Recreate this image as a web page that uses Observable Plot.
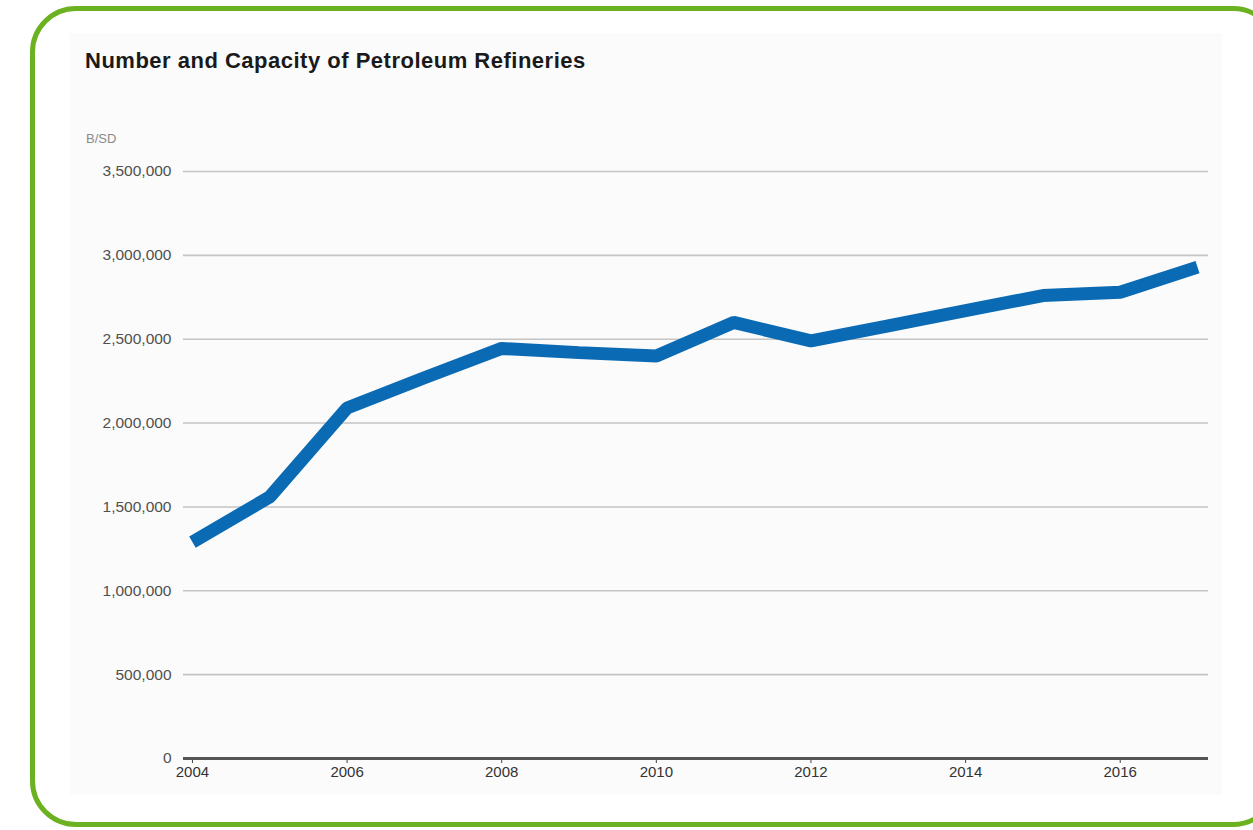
<!DOCTYPE html>
<html>
<head>
<meta charset="utf-8">
<script src="https://cdn.jsdelivr.net/npm/d3@7"></script>
<script src="https://cdn.jsdelivr.net/npm/@observablehq/plot@0.6"></script>
<style>
  html, body { margin: 0; padding: 0; background: #ffffff; }
  #wrap { position: relative; width: 1253px; height: 830px; overflow: hidden; background: #ffffff; font-family: "Liberation Sans", Arial, sans-serif; }
  #frame { position: absolute; left: 30px; top: 6px; width: 1239px; height: 811px; border: 5px solid #6cb11f; border-radius: 46px; }
  #panel { position: absolute; left: 70px; top: 33px; width: 1152px; height: 762px; background: #fbfbfb; }
  #title { position: absolute; left: 85px; top: 50px; font-size: 22px; line-height: 22px; font-weight: bold; color: #1a1a1a; letter-spacing: 0.5px; white-space: nowrap; }
  #unit { position: absolute; left: 86px; top: 132px; font-size: 13px; line-height: 13px; color: #8a8a8a; }
  #chart { position: absolute; left: 0; top: 0; }
</style>
</head>
<body>
<div id="wrap">
  <div id="frame"></div>
  <div id="panel"></div>
  <div id="title">Number and Capacity of Petroleum Refineries</div>
  <div id="unit">B/SD</div>
  <div id="chart"></div>
</div>
<script>
const years = [2004, 2005, 2006, 2007, 2008, 2009, 2010, 2011, 2012, 2013, 2014, 2015, 2016, 2017];
const capacity = [1290000, 1560000, 2090000, 2270000, 2445000, 2420000, 2400000, 2600000, 2490000, 2580000, 2670000, 2760000, 2780000, 2930000];
const xTicks = [2004, 2006, 2008, 2010, 2012, 2014, 2016];
const yTicks = [0, 500000, 1000000, 1500000, 2000000, 2500000, 3000000, 3500000];

const data = years.map((y, i) => ({year: y, value: capacity[i]}));

const chart = Plot.plot({
  width: 1253,
  height: 830,
  marginLeft: 183,
  marginRight: 45,
  marginTop: 171,
  marginBottom: 72,
  style: {background: "transparent", fontFamily: "'Liberation Sans', Arial, sans-serif", overflow: "visible"},
  x: {domain: [2003.884, 2017.142]},
  y: {domain: [0, 3500000]},
  marks: [
    Plot.gridY(yTicks, {stroke: "#c4c4c4", strokeOpacity: 1, strokeWidth: 1.6}),
    Plot.axisY(yTicks, {tickSize: 0, tickPadding: 12, tickFormat: d3.format(","), fontSize: 15.5, fill: "#505050", label: null}),
    Plot.axisX(xTicks, {tickSize: 5, tickPadding: 3, tickFormat: d => String(d), fontSize: 15, fill: "#333", stroke: "#444", label: null}),
    Plot.ruleY([0], {stroke: "#555", strokeWidth: 3}),
    Plot.lineY(data, {x: "year", y: "value", stroke: "#0a6ab4", strokeWidth: 13, strokeLinecap: "butt", strokeLinejoin: "miter"})
  ]
});
document.getElementById("chart").appendChild(chart);
</script>
</body>
</html>
